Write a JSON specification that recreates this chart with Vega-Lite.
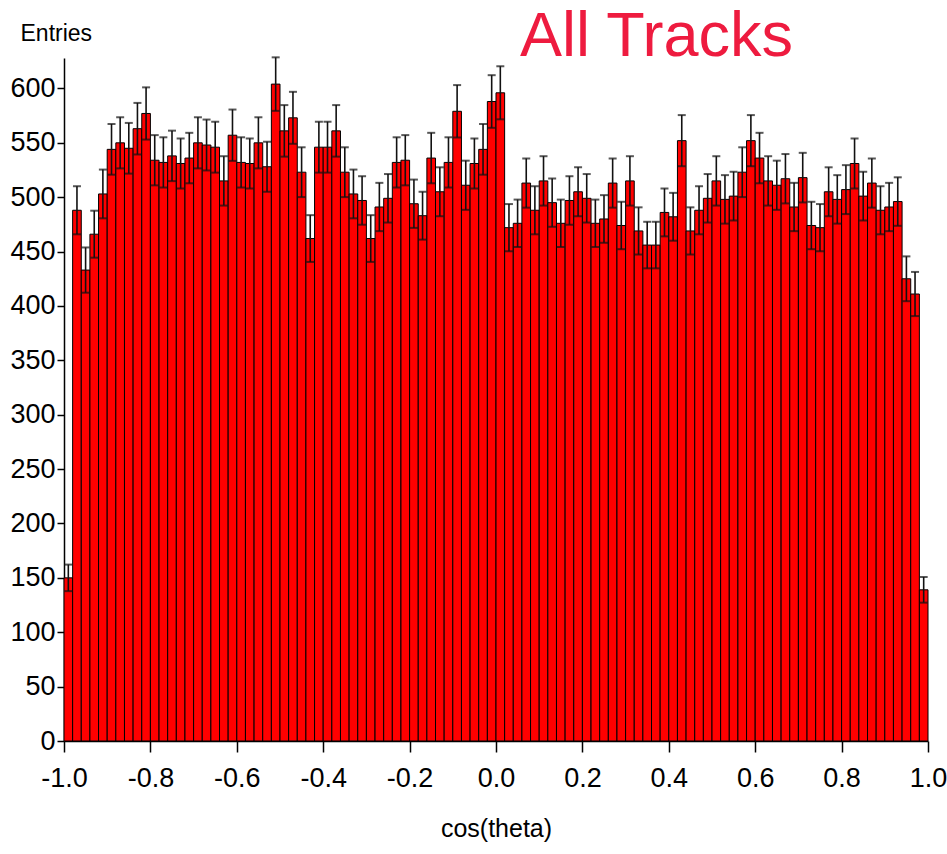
{
  "$schema": "https://vega.github.io/schema/vega-lite/v6.json",
  "width": 864,
  "height": 683,
  "autosize": "none",
  "padding": {"left": 64, "top": 58, "right": 19, "bottom": 113},
  "background": "white",
  "config": {
    "view": {"stroke": null},
    "font": "Liberation Sans",
    "locale": {"number": {"decimal": ".", "thousands": ",", "grouping": [3], "currency": ["$", ""], "minus": "-"}},
    "axis": {"grid": false, "domainColor": "#000", "domainWidth": 1.5, "tickColor": "#000", "tickWidth": 1.5, "labelColor": "#000", "titleColor": "#000", "labelFont": "Liberation Sans", "titleFont": "Liberation Sans"}
  },
  "title": {
    "text": "All Tracks",
    "anchor": "end",
    "frame": "group",
    "font": "Liberation Sans",
    "fontSize": 63,
    "fontWeight": "normal",
    "color": "#ee1b3f",
    "baseline": "alphabetic",
    "offset": 0,
    "dx": -135,
    "dy": 97
  },
  "data": {"values": [
    {"c": -0.99, "n": 150, "err": 12.2}, {"c": -0.97, "n": 488, "err": 22.1}, {"c": -0.95, "n": 433, "err": 20.8}, {"c": -0.93, "n": 466, "err": 21.6}, {"c": -0.91, "n": 503, "err": 22.4},
    {"c": -0.89, "n": 544, "err": 23.3}, {"c": -0.87, "n": 550, "err": 23.5}, {"c": -0.85, "n": 545, "err": 23.3}, {"c": -0.83, "n": 563, "err": 23.7}, {"c": -0.81, "n": 577, "err": 24.0},
    {"c": -0.79, "n": 534, "err": 23.1}, {"c": -0.77, "n": 532, "err": 23.1}, {"c": -0.75, "n": 538, "err": 23.2}, {"c": -0.73, "n": 531, "err": 23.0}, {"c": -0.71, "n": 536, "err": 23.2},
    {"c": -0.69, "n": 550, "err": 23.5}, {"c": -0.67, "n": 548, "err": 23.4}, {"c": -0.65, "n": 546, "err": 23.4}, {"c": -0.63, "n": 515, "err": 22.7}, {"c": -0.61, "n": 557, "err": 23.6},
    {"c": -0.59, "n": 532, "err": 23.1}, {"c": -0.57, "n": 531, "err": 23.0}, {"c": -0.55, "n": 550, "err": 23.5}, {"c": -0.53, "n": 528, "err": 23.0}, {"c": -0.51, "n": 604, "err": 24.6},
    {"c": -0.49, "n": 561, "err": 23.7}, {"c": -0.47, "n": 573, "err": 23.9}, {"c": -0.45, "n": 523, "err": 22.9}, {"c": -0.43, "n": 462, "err": 21.5}, {"c": -0.41, "n": 546, "err": 23.4},
    {"c": -0.39, "n": 546, "err": 23.4}, {"c": -0.37, "n": 561, "err": 23.7}, {"c": -0.35, "n": 523, "err": 22.9}, {"c": -0.33, "n": 503, "err": 22.4}, {"c": -0.31, "n": 497, "err": 22.3},
    {"c": -0.29, "n": 462, "err": 21.5}, {"c": -0.27, "n": 491, "err": 22.2}, {"c": -0.25, "n": 499, "err": 22.3}, {"c": -0.23, "n": 532, "err": 23.1}, {"c": -0.21, "n": 534, "err": 23.1},
    {"c": -0.19, "n": 494, "err": 22.2}, {"c": -0.17, "n": 483, "err": 22.0}, {"c": -0.15, "n": 536, "err": 23.2}, {"c": -0.13, "n": 505, "err": 22.5}, {"c": -0.11, "n": 532, "err": 23.1},
    {"c": -0.09, "n": 579, "err": 24.1}, {"c": -0.07, "n": 511, "err": 22.6}, {"c": -0.05, "n": 531, "err": 23.0}, {"c": -0.03, "n": 544, "err": 23.3}, {"c": -0.01, "n": 588, "err": 24.2},
    {"c": 0.01, "n": 596, "err": 24.4}, {"c": 0.03, "n": 472, "err": 21.7}, {"c": 0.05, "n": 476, "err": 21.8}, {"c": 0.07, "n": 513, "err": 22.6}, {"c": 0.09, "n": 488, "err": 22.1},
    {"c": 0.11, "n": 515, "err": 22.7}, {"c": 0.13, "n": 495, "err": 22.2}, {"c": 0.15, "n": 476, "err": 21.8}, {"c": 0.17, "n": 497, "err": 22.3}, {"c": 0.19, "n": 505, "err": 22.5},
    {"c": 0.21, "n": 499, "err": 22.3}, {"c": 0.23, "n": 476, "err": 21.8}, {"c": 0.25, "n": 480, "err": 21.9}, {"c": 0.27, "n": 513, "err": 22.6}, {"c": 0.29, "n": 474, "err": 21.8},
    {"c": 0.31, "n": 515, "err": 22.7}, {"c": 0.33, "n": 469, "err": 21.7}, {"c": 0.35, "n": 456, "err": 21.4}, {"c": 0.37, "n": 456, "err": 21.4}, {"c": 0.39, "n": 486, "err": 22.0},
    {"c": 0.41, "n": 482, "err": 22.0}, {"c": 0.43, "n": 552, "err": 23.5}, {"c": 0.45, "n": 469, "err": 21.7}, {"c": 0.47, "n": 488, "err": 22.1}, {"c": 0.49, "n": 499, "err": 22.3},
    {"c": 0.51, "n": 515, "err": 22.7}, {"c": 0.53, "n": 498, "err": 22.3}, {"c": 0.55, "n": 501, "err": 22.4}, {"c": 0.57, "n": 523, "err": 22.9}, {"c": 0.59, "n": 552, "err": 23.5},
    {"c": 0.61, "n": 536, "err": 23.2}, {"c": 0.63, "n": 515, "err": 22.7}, {"c": 0.65, "n": 511, "err": 22.6}, {"c": 0.67, "n": 517, "err": 22.7}, {"c": 0.69, "n": 491, "err": 22.2},
    {"c": 0.71, "n": 518, "err": 22.8}, {"c": 0.73, "n": 474, "err": 21.8}, {"c": 0.75, "n": 472, "err": 21.7}, {"c": 0.77, "n": 505, "err": 22.5}, {"c": 0.79, "n": 498, "err": 22.3},
    {"c": 0.81, "n": 507, "err": 22.5}, {"c": 0.83, "n": 531, "err": 23.0}, {"c": 0.85, "n": 501, "err": 22.4}, {"c": 0.87, "n": 513, "err": 22.6}, {"c": 0.89, "n": 488, "err": 22.1},
    {"c": 0.91, "n": 491, "err": 22.2}, {"c": 0.93, "n": 496, "err": 22.3}, {"c": 0.95, "n": 425, "err": 20.6}, {"c": 0.97, "n": 411, "err": 20.3}, {"c": 0.99, "n": 139, "err": 11.8}
  ]},
  "layer": [
    {
      "mark": {"type": "bar", "width": 8.64, "fill": "#ff0000", "stroke": "#000", "strokeWidth": 1},
      "encoding": {
        "x": {"field": "c", "type": "quantitative", "scale": {"domain": [-1, 1], "nice": false, "zero": false, "padding": 0},
          "axis": {"values": [-1, -0.8, -0.6, -0.4, -0.2, 0, 0.2, 0.4, 0.6, 0.8, 1], "format": ".1f", "labelFontSize": 27, "tickSize": 11, "labelPadding": 13, "labelFlush": false, "labelOverlap": false,
            "title": "cos(theta)", "titleFontSize": 25, "titleFontWeight": "normal", "titlePadding": 25}},
        "y": {"field": "n", "type": "quantitative", "scale": {"domain": [0, 628], "nice": false},
          "axis": {"values": [0, 50, 100, 150, 200, 250, 300, 350, 400, 450, 500, 550, 600], "labelFontSize": 27, "tickSize": 7, "labelPadding": 2,
            "title": "Entries", "titleAngle": 0, "titleAlign": "left", "titleBaseline": "alphabetic", "titleX": -44, "titleY": -18, "titleFontSize": 23, "titleFontWeight": "normal"}}
      }
    },
    {
      "mark": {"type": "errorbar", "ticks": {"size": 8, "thickness": 2, "color": "#111"}, "rule": {"strokeWidth": 1.6, "color": "#111"}},
      "encoding": {
        "x": {"field": "c", "type": "quantitative"},
        "y": {"field": "n", "type": "quantitative", "title": "Entries"},
        "yError": {"field": "err"}
      }
    }
  ]
}
